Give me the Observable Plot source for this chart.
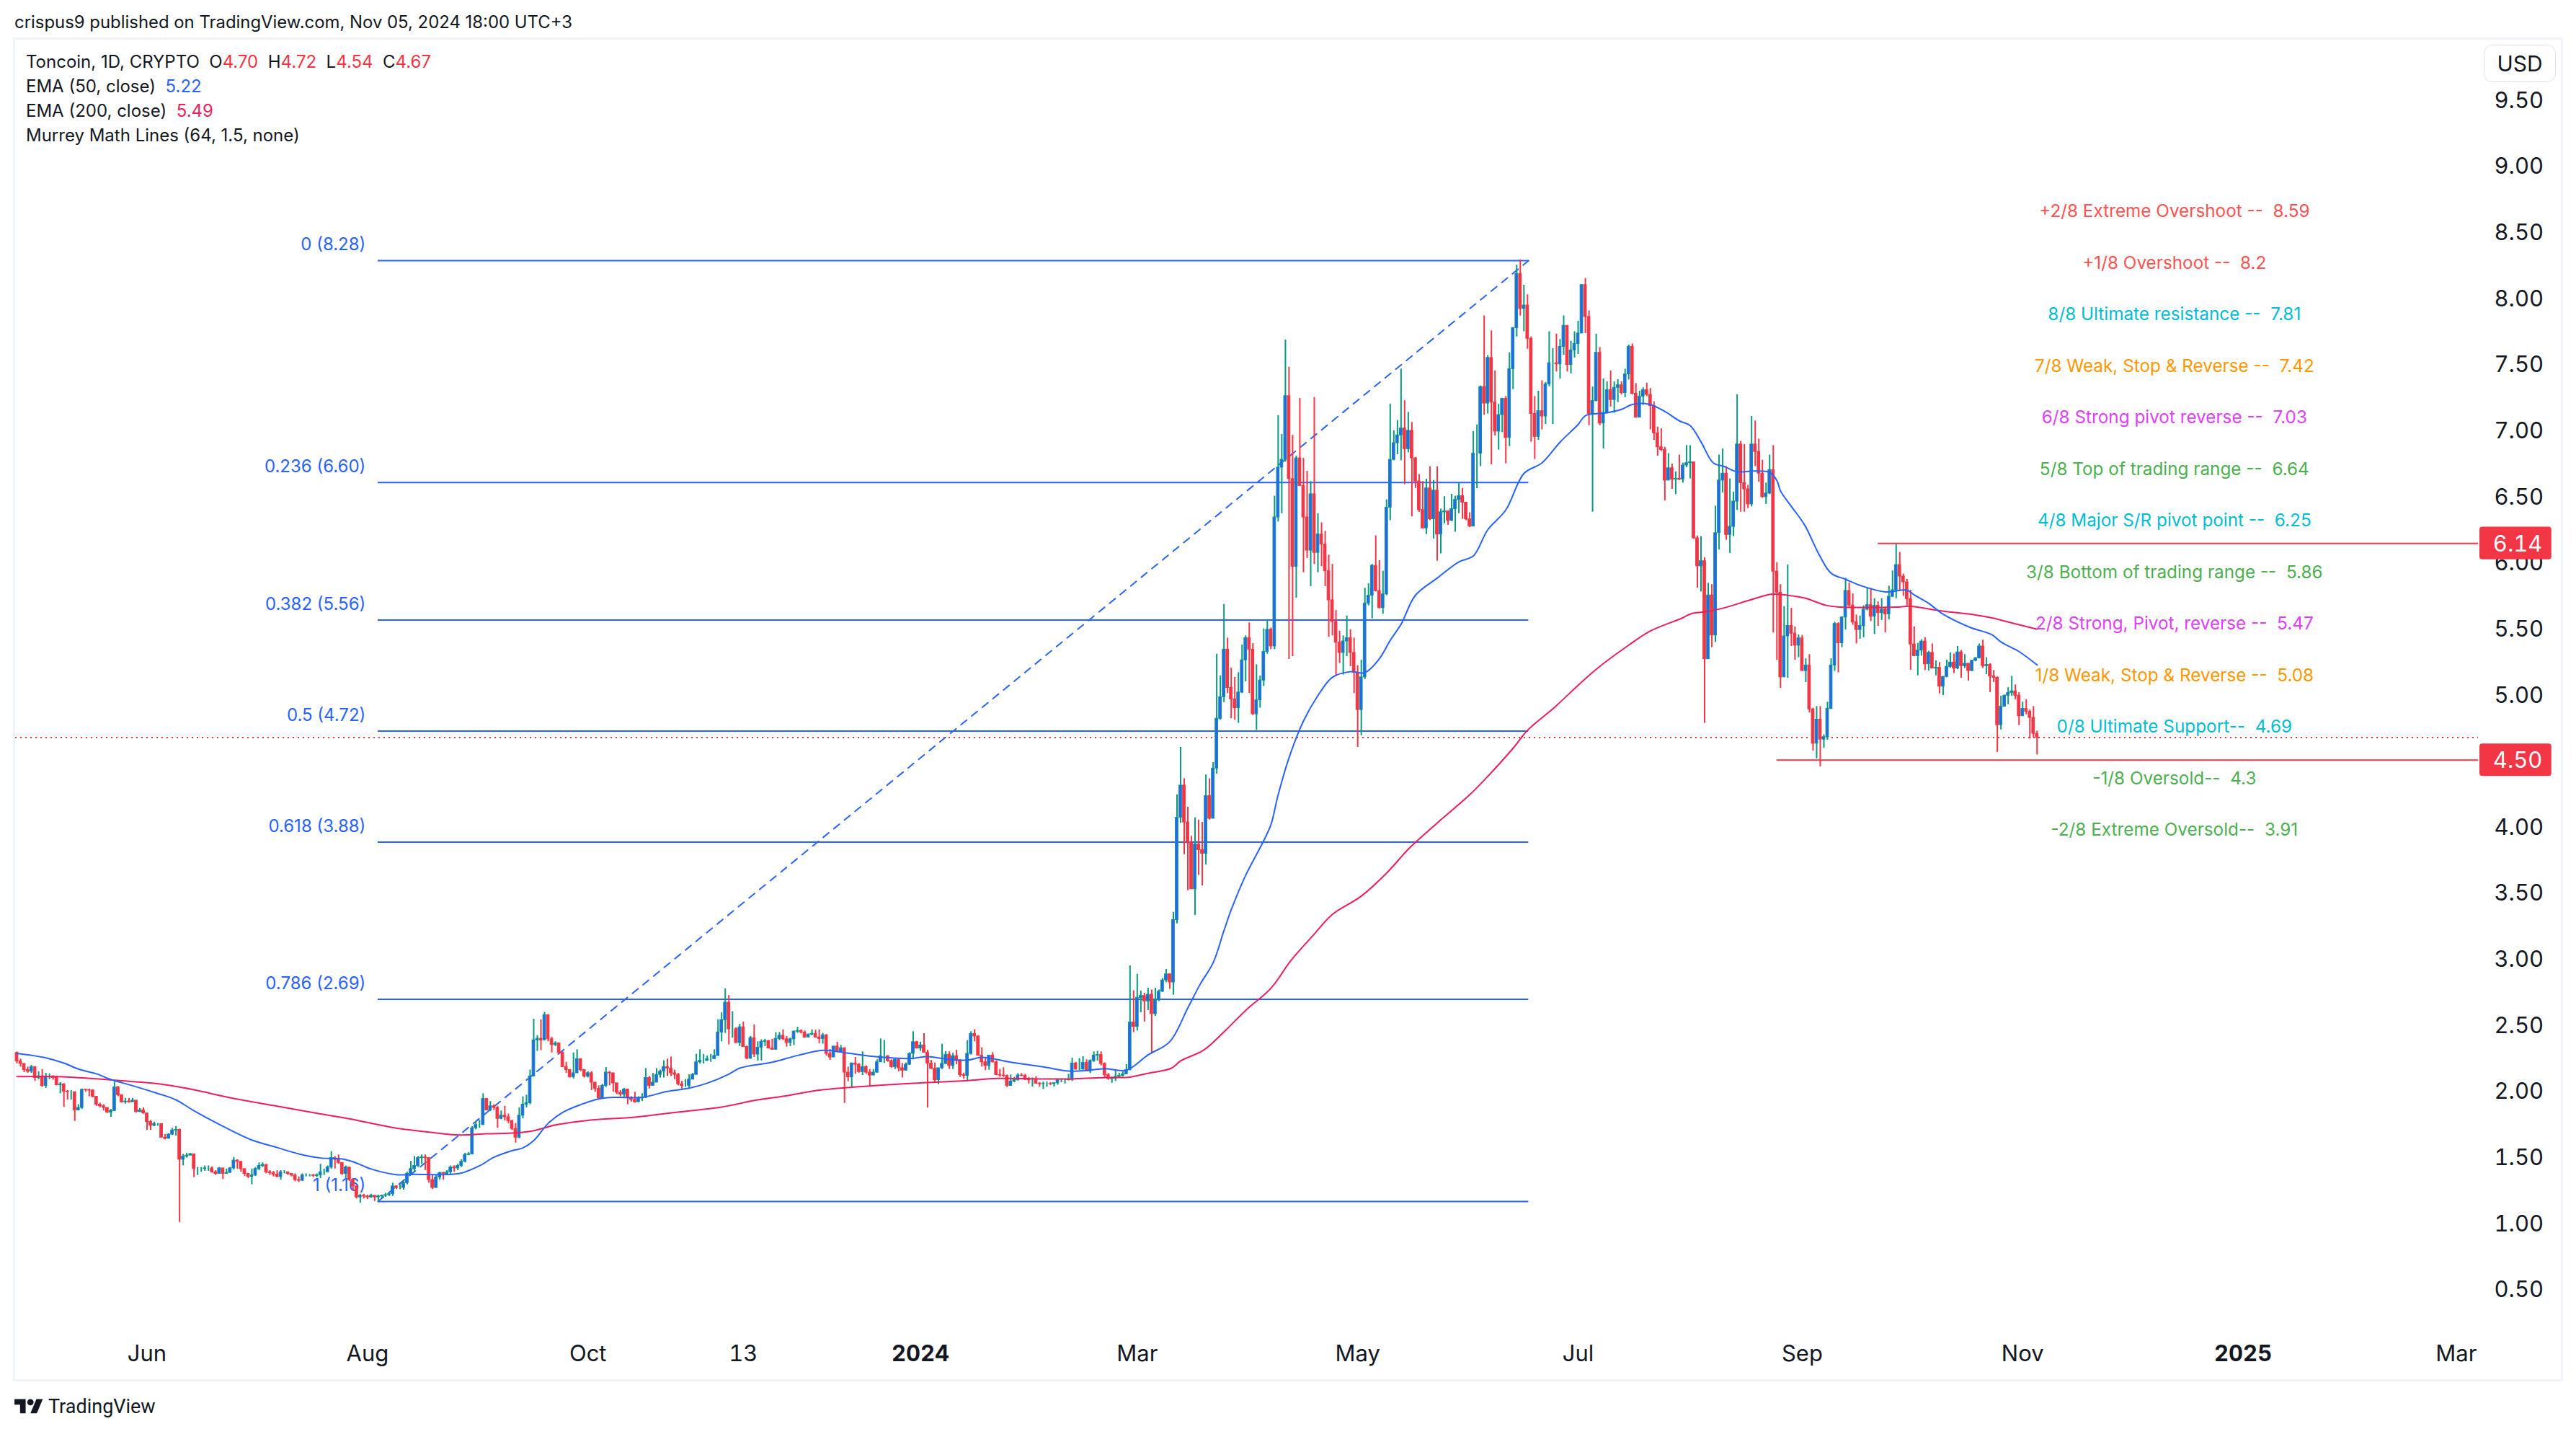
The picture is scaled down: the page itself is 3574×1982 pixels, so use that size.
<!DOCTYPE html>
<html><head><meta charset="utf-8">
<script src="https://cdn.jsdelivr.net/npm/d3@7"></script>
<script src="https://cdn.jsdelivr.net/npm/@observablehq/plot@0.6"></script>
<style>
html,body{margin:0;padding:0;background:#fff;width:3574px;height:1982px;overflow:hidden;color:#131722;font-family:Inter,Roboto,sans-serif}
#hdr{height:53px;box-sizing:border-box;padding:14px 0 0 20px;font:23.9px/34px Inter,sans-serif;white-space:nowrap}
#frame{position:absolute;left:18px;top:52px;width:3532px;height:1858px;border:3px solid #f0f3fa}
#legend{position:absolute;left:36px;top:69px;font:24px/34px Inter,sans-serif}
#legend .r{color:#f23645}#legend .b{color:#2962ff}#legend .p{color:#ee1e5d}
#usd{position:absolute;left:3446px;top:62px;width:100px;height:52px;box-sizing:border-box;border:1px solid #e0e3eb;border-radius:12px;text-align:center;font:30px/50px Inter,sans-serif}
#ftr{position:absolute;left:20px;top:1931px;display:flex;align-items:center;gap:7px;font:27px/40px Roboto,sans-serif}
#chart{position:absolute;left:0;top:53px}
</style></head><body>
<div id="hdr">crispus9 published on TradingView.com, Nov 05, 2024 18:00 UTC+3</div>
<div id="frame"></div>
<div id="chart"></div>
<div id="legend">
<div>Toncoin, 1D, CRYPTO&nbsp;&nbsp;O<span class="r">4.70</span>&nbsp;&nbsp;H<span class="r">4.72</span>&nbsp;&nbsp;L<span class="r">4.54</span>&nbsp;&nbsp;C<span class="r">4.67</span></div>
<div>EMA (50, close)&nbsp;&nbsp;<span class="b">5.22</span></div>
<div>EMA (200, close)&nbsp;&nbsp;<span class="p">5.49</span></div>
<div>Murrey Math Lines (64, 1.5, none)</div>
</div>
<div id="usd">USD</div>
<div id="ftr"><svg width="40" height="31" viewBox="0 0 36 28"><path fill="#131722" d="M14 22H7V11H0V4h14v18zM28 22h-8l7.5-18h8L28 22z"/><circle fill="#131722" cx="20" cy="8" r="4"/></svg><span>TradingView</span></div>
<script>
const firstOpen = 2.285;
const closes = [
2.221,2.202,2.155,2.143,2.178,2.095,2.107,2.036,2.107,2.107,
2.095,2.041,2.048,1.993,1.988,1.988,1.850,1.869,2.005,2.003,
2.0,1.953,1.893,1.881,1.869,1.834,1.846,2.024,1.965,1.912,
1.917,1.912,1.924,1.838,1.850,1.827,1.762,1.734,1.746,1.746,
1.644,1.636,1.667,1.698,1.703,1.477,1.501,1.508,1.518,1.406,
1.406,1.406,1.411,1.411,1.382,1.370,1.411,1.370,1.377,1.411,
1.470,1.461,1.406,1.370,1.347,1.358,1.406,1.430,1.437,1.382,
1.375,1.365,1.347,1.382,1.382,1.370,1.358,1.323,1.318,1.358,
1.358,1.358,1.354,1.358,1.382,1.382,1.418,1.489,1.477,1.453,
1.370,1.418,1.323,1.275,1.192,1.204,1.199,1.192,1.204,1.192,
1.199,1.204,1.209,1.216,1.275,1.263,1.263,1.299,1.370,1.406,
1.430,1.489,1.494,1.489,1.323,1.263,1.342,1.375,1.370,1.382,
1.418,1.411,1.430,1.461,1.513,1.518,1.715,1.739,1.739,1.936,
1.850,1.881,1.869,1.786,1.810,1.798,1.770,1.710,1.644,1.810,
1.893,1.905,2.107,2.380,2.392,2.380,2.571,2.388,2.345,2.357,
2.285,2.178,2.155,2.102,2.131,2.238,2.155,2.107,2.131,2.060,
2.012,1.941,2.036,2.136,2.131,2.055,1.984,1.969,2.007,1.945,
1.929,1.912,1.941,1.945,2.095,2.036,2.060,2.119,2.143,2.178,
2.167,2.131,2.119,2.048,2.036,2.036,2.083,2.119,2.214,2.226,
2.226,2.238,2.238,2.262,2.440,
2.533,2.665,2.464,2.464,2.360,2.479,2.329,2.242,2.397,2.273,
2.324,2.369,2.375,2.318,2.309,2.391,2.415,2.388,2.360,2.388,
2.446,2.451,2.439,2.402,2.424,2.429,2.402,2.391,2.418,2.278,
2.251,2.333,2.293,2.320,2.136,2.100,2.205,2.196,2.140,2.178,
2.136,2.114,2.136,2.214,2.260,2.260,2.224,2.178,2.233,2.169,
2.151,2.196,2.278,2.366,2.318,2.342,2.287,2.205,2.165,2.078,
2.169,2.202,2.271,2.187,2.260,2.224,2.118,2.111,2.278,2.428,
2.409,2.264,2.214,2.187,2.265,2.214,2.118,2.114,2.111,2.036,
2.069,2.078,2.114,2.111,2.081,2.078,2.078,2.052,2.049,2.050,
2.050,2.049,2.056,2.078,2.078,2.078,2.081,2.205,2.160,2.160,
2.209,2.145,2.224,2.265,2.269,2.202,2.118,2.087,2.090,2.105,
2.111,2.123,2.154,2.515,2.482,2.701,2.716,2.675,2.725,2.579,
2.683,2.748,2.834,2.880,2.818,3.290,
4.064,4.308,4.029,3.872,3.523,3.862,3.820,3.792,4.228,4.057,
4.437,4.814,4.977,5.337,5.047,4.960,4.894,5.012,5.256,5.424,
5.337,4.848,4.953,5.103,5.319,5.487,5.361,6.337,6.714,6.773,
7.255,6.627,5.964,6.784,6.575,6.337,6.086,6.512,6.069,6.208,
6.132,5.930,5.710,5.546,5.389,5.312,5.399,5.424,5.312,5.162,
4.880,5.127,5.685,5.745,5.971,5.780,5.651,5.755,6.411,6.773,
6.899,6.958,7.010,6.854,6.993,6.784,6.609,6.393,6.254,6.557,
6.323,6.540,6.208,6.376,6.383,6.313,6.400,6.470,6.498,6.449,
6.323,6.268,
6.820,6.820,7.324,7.199,7.544,7.207,6.987,7.112,7.234,6.939,
7.459,7.769,8.180,7.915,7.941,7.689,7.120,6.947,7.141,7.101,
7.345,7.504,7.504,7.496,7.628,7.787,7.491,7.602,7.650,7.729,
8.095,7.854,7.120,7.218,7.583,7.048,7.128,7.300,7.226,7.318,
7.337,7.279,7.419,7.628,7.273,7.093,7.252,7.300,7.265,7.180,
6.974,6.868,6.847,6.616,6.709,6.624,6.629,6.624,6.730,6.748,
6.754,6.179,5.967,6.006,5.264,5.747,5.444,6.218,6.616,6.669,
6.205,6.266,6.457,6.889,6.597,6.550,6.436,6.889,6.833,6.669,
6.491,6.518,6.695,5.927,5.768,5.127,5.437,
5.516,5.458,5.367,5.422,5.175,5.217,4.884,4.625,4.807,4.656,
4.674,4.889,5.217,5.531,5.385,5.580,5.781,5.671,5.544,5.485,
5.516,5.640,5.673,5.586,5.668,5.613,5.640,5.604,5.737,5.786,
5.977,5.890,5.846,5.719,5.376,5.288,5.330,5.398,5.226,5.312,
5.194,5.199,5.057,5.130,5.206,5.239,5.194,5.316,5.212,5.230,
5.175,5.252,5.272,5.361,5.212,5.221,5.134,5.124,4.765,4.906,
4.988,5.008,5.021,4.988,4.833,4.888,4.866,4.820,4.70,4.67];
const highs = [
2.292,2.238,2.202,2.178,2.190,2.131,2.143,2.159,2.131,2.126,
2.112,2.107,2.060,2.048,2.0,2.0,1.941,1.893,2.012,2.012,
2.012,2.007,1.953,1.905,1.893,1.869,1.858,2.064,2.031,1.965,
1.941,1.941,1.941,1.924,1.865,1.869,1.827,1.774,1.762,1.751,
1.746,1.667,1.674,1.715,1.727,1.708,1.518,1.525,1.525,1.518,
1.418,1.418,1.430,1.430,1.423,1.394,1.418,1.406,1.406,1.418,
1.494,1.477,1.461,1.394,1.370,1.406,1.418,1.453,1.453,1.442,
1.394,1.389,1.394,1.394,1.394,1.382,1.370,1.370,1.347,1.370,
1.370,1.365,1.365,1.370,1.442,1.406,1.430,1.537,1.501,1.513,
1.453,1.430,1.418,1.335,1.275,1.216,1.216,1.209,1.216,1.204,
1.209,1.209,1.223,1.223,1.299,1.280,1.287,1.323,1.382,1.465,
1.501,1.501,1.513,1.513,1.489,1.358,1.358,1.382,1.382,1.394,
1.430,1.430,1.442,1.477,1.525,1.532,1.727,1.762,1.774,1.976,
1.941,1.917,1.893,1.881,1.846,1.881,1.822,1.774,1.751,1.869,
1.953,1.965,2.155,2.540,2.416,2.535,2.592,2.571,2.404,2.369,
2.357,2.292,2.214,2.159,2.285,2.309,2.238,2.155,2.143,2.143,
2.048,2.036,2.048,2.174,2.143,2.095,2.036,2.0,2.017,2.012,
1.953,1.988,1.953,1.976,2.167,2.107,2.131,2.167,2.155,2.226,
2.238,2.254,2.155,2.131,2.071,2.083,2.119,2.131,2.274,2.309,
2.274,2.262,2.274,2.309,2.535,
2.588,2.770,2.719,2.597,2.475,2.501,2.519,2.337,2.409,2.497,
2.369,2.384,2.388,2.378,2.388,2.439,2.439,2.460,2.409,2.397,
2.451,2.479,2.460,2.451,2.428,2.460,2.457,2.460,2.433,2.424,
2.311,2.333,2.366,2.342,2.324,2.178,2.209,2.251,2.205,2.293,
2.187,2.160,2.160,2.233,2.391,2.380,2.264,2.233,2.245,2.242,
2.205,2.209,2.287,2.446,2.373,2.366,2.431,2.306,2.229,2.209,
2.169,2.351,2.296,2.293,2.282,2.306,2.233,2.132,2.378,2.446,
2.460,2.415,2.324,2.251,2.265,2.287,2.224,2.160,2.173,2.118,
2.118,2.100,2.129,2.129,2.123,2.100,2.096,2.105,2.060,2.065,
2.065,2.060,2.060,2.087,2.087,2.087,2.123,2.245,2.214,2.242,
2.256,2.233,2.233,2.293,2.296,2.293,2.209,2.129,2.100,2.147,
2.132,2.142,2.196,2.943,2.756,2.880,2.752,2.737,2.774,2.761,
2.774,2.761,2.847,2.916,2.880,3.349,
4.238,4.597,4.360,4.144,3.924,4.064,4.047,4.029,4.388,4.360,
4.482,5.302,5.138,5.678,5.424,5.197,5.127,5.162,5.372,5.441,
5.539,5.382,5.222,5.138,5.494,5.563,5.501,6.498,7.108,6.965,
7.680,7.474,6.958,6.801,7.237,6.784,6.686,6.609,7.244,6.365,
6.296,6.233,6.052,5.982,5.633,5.476,5.441,5.591,5.487,5.424,
5.215,5.257,5.801,5.835,5.982,6.198,6.010,5.930,6.470,7.195,
6.993,7.070,7.460,7.220,7.132,7.056,6.791,6.662,6.609,6.627,
6.721,6.616,6.721,6.400,6.494,6.383,6.512,6.498,6.602,6.557,
6.452,6.372,
6.987,7.037,7.332,7.862,7.562,7.748,7.446,7.194,7.239,7.252,
7.583,7.774,8.246,8.286,8.095,8.021,7.703,7.252,7.292,7.371,
7.358,7.742,7.615,7.724,7.684,7.862,7.787,7.671,7.742,7.822,
8.100,8.145,7.901,7.324,7.724,7.623,7.385,7.363,7.446,7.363,
7.379,7.363,7.459,7.642,7.650,7.350,7.292,7.318,7.353,7.313,
7.212,7.021,7.008,6.868,6.820,6.741,6.682,6.809,6.748,6.881,
6.881,6.748,6.197,6.192,6.033,5.839,5.829,6.422,6.809,6.855,
6.722,6.629,6.529,7.265,6.913,6.889,6.581,7.101,7.067,6.929,
6.770,6.597,6.809,6.881,5.993,5.829,5.662,
5.977,5.649,5.509,5.449,5.445,5.267,5.299,4.893,4.906,4.906,
4.692,4.939,5.267,5.544,5.540,5.586,5.877,5.841,5.759,5.598,
5.591,5.668,5.804,5.799,5.722,5.698,5.722,5.658,5.817,5.932,
6.132,6.072,5.908,5.868,5.786,5.509,5.385,5.412,5.427,5.325,
5.380,5.252,5.239,5.134,5.257,5.312,5.303,5.361,5.330,5.299,
5.230,5.257,5.276,5.380,5.409,5.276,5.230,5.179,5.130,4.984,
4.993,5.048,5.135,5.070,5.011,4.939,4.957,4.880,4.906,4.72];
const lows = [
2.202,2.178,2.136,2.131,2.131,2.071,2.083,2.024,2.017,2.083,
2.079,2.036,1.976,1.874,1.929,1.929,1.767,1.846,1.858,1.988,
1.953,1.945,1.881,1.869,1.846,1.827,1.798,1.841,1.953,1.905,
1.898,1.905,1.912,1.831,1.834,1.822,1.698,1.698,1.727,1.731,
1.644,1.627,1.632,1.660,1.656,1.002,1.430,1.489,1.508,1.342,
1.358,1.382,1.389,1.389,1.375,1.358,1.370,1.327,1.365,1.382,
1.399,1.406,1.382,1.351,1.335,1.287,1.351,1.394,1.418,1.370,
1.358,1.347,1.339,1.323,1.370,1.358,1.347,1.311,1.304,1.311,
1.347,1.347,1.342,1.342,1.335,1.358,1.394,1.406,1.406,1.442,
1.358,1.335,1.311,1.239,1.180,1.149,1.180,1.175,1.185,1.161,
1.161,1.185,1.192,1.199,1.199,1.251,1.251,1.247,1.287,1.358,
1.382,1.418,1.442,1.394,1.299,1.251,1.263,1.323,1.323,1.358,
1.358,1.382,1.394,1.418,1.453,1.508,1.513,1.703,1.715,1.739,
1.846,1.841,1.850,1.715,1.779,1.770,1.751,1.698,1.603,1.636,
1.786,1.869,1.893,2.107,2.297,2.302,2.388,2.369,2.285,2.333,
2.274,2.174,2.131,2.095,2.088,2.155,2.143,2.095,2.095,2.0,
1.988,1.929,1.936,2.024,2.036,1.988,1.969,1.953,1.941,1.893,
1.912,1.905,1.912,1.917,1.941,2.012,2.055,2.060,2.095,2.095,
2.107,2.107,2.083,2.036,2.012,2.024,2.017,2.107,2.119,2.202,
2.202,2.221,2.214,2.254,2.262,
2.369,2.433,2.346,2.397,2.357,2.333,2.329,2.233,2.236,2.251,
2.224,2.224,2.333,2.315,2.306,2.306,2.378,2.378,2.329,2.333,
2.342,2.433,2.428,2.397,2.400,2.415,2.397,2.355,2.351,2.260,
2.229,2.251,2.287,2.287,1.903,2.067,2.023,2.123,2.132,2.114,
2.123,2.027,2.114,2.132,2.214,2.205,2.214,2.169,2.160,2.142,
2.096,2.147,2.191,2.233,2.315,2.296,2.287,1.868,2.160,2.063,
2.045,2.160,2.196,2.160,2.160,2.196,2.100,2.087,2.074,2.269,
2.369,2.260,2.178,2.151,2.154,2.209,2.114,2.100,2.100,2.023,
2.032,2.060,2.072,2.105,2.078,2.050,2.027,2.049,2.027,2.008,
2.027,2.038,2.027,2.041,2.060,2.050,2.074,2.069,2.154,2.151,
2.154,2.142,2.129,2.214,2.224,2.187,2.092,2.078,2.056,2.069,
2.092,2.105,2.123,2.151,2.439,2.451,2.588,2.519,2.606,2.278,
2.561,2.675,2.743,2.816,2.767,2.722,
3.262,4.022,3.785,3.513,3.523,3.325,3.628,3.548,3.708,4.047,
4.057,4.395,4.803,4.936,5.005,4.814,4.803,4.779,5.005,5.093,
5.005,4.838,4.726,4.894,5.058,5.302,5.337,5.337,6.303,6.365,
6.756,5.263,5.284,5.727,6.575,5.919,6.027,5.814,5.982,5.919,
5.964,5.814,5.431,5.441,5.134,5.232,5.145,5.284,5.208,5.005,
4.597,4.685,5.110,5.668,5.570,5.773,5.644,5.605,5.745,6.313,
6.766,6.812,6.766,6.585,6.826,6.341,6.557,6.376,6.254,6.208,
6.313,6.174,6.006,6.062,6.289,6.278,6.306,6.226,6.365,6.323,
6.313,6.261,
6.271,6.555,6.722,7.112,7.120,6.735,6.953,6.847,6.979,6.743,
6.873,7.305,7.703,7.862,7.742,7.610,6.907,6.775,6.921,7.000,
7.040,7.326,7.040,7.438,7.385,7.565,7.438,7.424,7.544,7.570,
7.729,7.729,7.032,6.377,7.212,7.032,6.855,7.128,7.173,7.125,
7.207,7.265,7.244,7.377,7.265,7.088,7.093,7.186,7.252,7.000,
6.921,6.801,6.836,6.462,6.616,6.550,6.510,6.616,6.597,6.714,
6.629,6.173,5.802,5.773,4.779,5.264,5.352,5.391,6.091,6.523,
6.165,6.065,6.192,6.391,6.377,6.377,6.404,6.417,6.722,6.603,
6.483,6.436,6.510,5.463,5.256,5.044,5.127,
5.121,5.361,5.257,5.276,5.175,5.088,4.857,4.570,4.510,4.450,
4.592,4.651,4.884,5.172,5.161,5.352,5.485,5.653,5.522,5.380,
5.416,5.427,5.631,5.549,5.452,5.513,5.558,5.463,5.562,5.731,
5.722,5.786,5.740,5.668,5.181,5.285,5.139,5.288,5.179,5.175,
5.194,5.139,5.002,4.990,5.124,5.197,5.157,5.185,5.121,5.194,
5.099,5.172,5.245,5.267,5.194,5.148,5.011,5.088,4.559,4.729,
4.902,4.920,4.984,4.957,4.762,4.844,4.844,4.660,4.669,4.54];

const ema50Days = [0,8,13,17,22,26,32,39,44,49,53,58,65,72,78,84,90,93,98,105,110,118,123,128,132,137,140,143,147,151,156,161,166,173,180,186,191,197,200,209,216,223,230,238,247,252,257,263,267,275,284,291,297,301,307,313,319,324,327.5,331,334,336,340,345,347,349,352,356,360,364,369,373,377,380,383,387,393,399,403,407,412,417,422,427,432,434,440,444,447,451.5,456,460,463,466,469.4,472.4,476,480.7,485,487,488,491,494.7,498.6,502,506,510.6,517,523,525,529,533,540.5,546.5,549,554,559];
const ema50Values = [2.281,2.247,2.207,2.162,2.126,2.083,2.036,1.977,1.929,1.846,1.786,1.715,1.625,1.568,1.520,1.489,1.482,1.461,1.406,1.363,1.365,1.363,1.375,1.430,1.494,1.544,1.565,1.620,1.751,1.834,1.893,1.936,1.948,1.948,1.993,2.017,2.055,2.123,2.169,2.214,2.265,2.304,2.282,2.255,2.242,2.256,2.238,2.229,2.251,2.214,2.178,2.147,2.154,2.165,2.154,2.269,2.369,2.625,2.808,2.966,3.210,3.367,3.628,3.890,4.012,4.238,4.517,4.796,4.988,5.127,5.169,5.162,5.267,5.406,5.528,5.748,5.877,6.0,6.045,6.243,6.393,6.669,6.749,6.906,7.04,7.106,7.128,7.154,7.191,7.194,7.138,7.067,7.032,6.908,6.749,6.722,6.682,6.688,6.677,6.616,6.537,6.42,6.278,6.059,5.914,5.868,5.817,5.773,5.786,5.75,5.686,5.604,5.504,5.449,5.394,5.321,5.22];
const ema200Days = [0,11,21,31,40,49,59,72,84,92,103.5,113.7,122.6,130,138,143,149,158,171,182,195,203.8,212.7,221.6,230.5,248,262.5,271.4,284,292.8,301.7,308,312.4,319.5,322,328.4,334.5,340,347,352.5,358.7,364,372,379,385.4,392.5,402,406.8,414,418,425.5,432,436.9,446,452,460.8,463.4,467,472,479.4,485.4,490,494.7,500.6,504.6,512,520,524,532,542,546.5,553,559];
const ema200Values = [2.105,2.105,2.090,2.069,2.048,2.005,1.945,1.881,1.822,1.786,1.722,1.686,1.663,1.672,1.679,1.696,1.739,1.774,1.798,1.834,1.874,1.923,1.959,2.001,2.023,2.054,2.074,2.091,2.087,2.089,2.098,2.101,2.127,2.169,2.224,2.306,2.457,2.606,2.774,2.983,3.175,3.332,3.471,3.645,3.837,4.012,4.238,4.371,4.59,4.726,4.90,5.066,5.185,5.370,5.477,5.575,5.609,5.622,5.649,5.710,5.755,5.747,5.726,5.671,5.658,5.655,5.658,5.664,5.631,5.598,5.576,5.531,5.49];

const fibLevels = [8.28,6.60,5.56,4.72,3.88,2.69,1.16];
const fibLabels = ["0 (8.28)","0.236 (6.60)","0.382 (5.56)","0.5 (4.72)","0.618 (3.88)","0.786 (2.69)","1 (1.16)"];
const murreyLevels = [8.59,8.2,7.81,7.42,7.03,6.64,6.25,5.86,5.47,5.08,4.69,4.3,3.91];
const murreyLabels = ["+2/8 Extreme Overshoot --  8.59","+1/8 Overshoot --  8.2","8/8 Ultimate resistance --  7.81","7/8 Weak, Stop & Reverse --  7.42","6/8 Strong pivot reverse --  7.03","5/8 Top of trading range --  6.64","4/8 Major S/R pivot point --  6.25","3/8 Bottom of trading range --  5.86","2/8 Strong, Pivot, reverse --  5.47","1/8 Weak, Stop & Reverse --  5.08","0/8 Ultimate Support--  4.69","-1/8 Oversold--  4.3","-2/8 Extreme Oversold--  3.91"];
const murreyColors = ["#ff5252","#ff5252","#00bcd4","#ff9800","#e040fb","#4caf50","#00bcd4","#4caf50","#e040fb","#ff9800","#00bcd4","#4caf50","#4caf50"];
const priceTicks = d3.range(1,20).map(d=>d/2);
const monthTicks = [["2023-06-01","Jun"],["2023-08-01","Aug"],["2023-10-01","Oct"],["2023-11-13","13"],["2024-03-01","Mar"],["2024-05-01","May"],["2024-07-01","Jul"],["2024-09-01","Sep"],["2024-11-01","Nov"],["2025-03-01","Mar"]];
const yearTicks = [["2024-01-01","2024"],["2025-01-01","2025"]];

const START = Date.UTC(2023,3,26), DAY = 864e5;
const date = i => new Date(START + i*DAY);
const lastPrice = 4.67, swingHigh = 6.14, swingLow = 4.50;
const RED="#f23645", GREEN="#089981", BLUE="#2962ff", PINK="#ee1e5d";

const candles = closes.map((c,i)=>({date:date(i), open:i?closes[i-1]:firstOpen, close:c, high:highs[i], low:lows[i]}));
const up = candles.filter(d=>d.close>=d.open), down = candles.filter(d=>d.close<d.open);
const ema50 = ema50Days.map((d,i)=>({date:date(d), v:ema50Values[i]}));
const ema200 = ema200Days.map((d,i)=>({date:date(d), v:ema200Values[i]}));
const fib = fibLevels.map((v,i)=>({v,label:fibLabels[i]}));
const murrey = murreyLevels.map((v,i)=>({v,label:murreyLabels[i],color:murreyColors[i]}));
const fibStart = date(99.9), fibEnd = date(418.3), labelEnd = date(96.5), murreyX = date(597);
const parse = d3.utcParse("%Y-%m-%d");
const halfBody = 0.37;

const plot = Plot.plot({
  width:3574, height:1859, marginLeft:21, marginRight:136, marginTop:0, marginBottom:67,
  x:{type:"utc", domain:[date(-0.4),date(681.1)], axis:null},
  y:{domain:[0.183,9.960], axis:null},
  style:{background:"transparent", fontFamily:"Inter,sans-serif", whiteSpace:"pre", overflow:"visible"},
  marks:[
    Plot.axisY({anchor:"right", ticks:priceTicks, tickSize:0, tickPadding:22, tickFormat:d=>d.toFixed(2), fontSize:31, fill:"#131722", fontFamily:"Inter", fontVariant:"tabular-nums", label:null, dy:2}),
    Plot.axisX({anchor:"bottom", ticks:monthTicks.map(d=>parse(d[0])), tickFormat:d=>monthTicks.find(t=>+parse(t[0])===+d)[1], tickSize:0, tickPadding:20, fontSize:31, fill:"#131722", label:null, fontFamily:"Inter"}),
    Plot.axisX({anchor:"bottom", ticks:yearTicks.map(d=>parse(d[0])), tickFormat:d=>yearTicks.find(t=>+parse(t[0])===+d)[1], tickSize:0, tickPadding:20, fontSize:31, fontWeight:"bold", fill:"#131722", label:null, fontFamily:"Inter"}),
    Plot.ruleY(fib,{x1:fibStart,x2:fibEnd,y:"v",stroke:BLUE,strokeWidth:2}),
    Plot.line([{x:fibStart,y:1.16},{x:fibEnd,y:8.28}],{x:"x",y:"y",stroke:BLUE,strokeWidth:2,strokeDasharray:"10,9"}),
    Plot.text(fib,{x:labelEnd,y:"v",text:"label",textAnchor:"end",dy:-22,fill:BLUE,fontSize:24,fontFamily:"Inter"}),
    Plot.ruleY([lastPrice],{stroke:RED,strokeWidth:2,strokeDasharray:"2,5"}),
    Plot.ruleX(down,{x:"date",y1:"low",y2:"high",stroke:RED,strokeWidth:2}),
    Plot.ruleX(up,{x:"date",y1:"low",y2:"high",stroke:GREEN,strokeWidth:2}),
    Plot.rect(down,{x1:d=>new Date(+d.date-halfBody*DAY),x2:d=>new Date(+d.date+halfBody*DAY),y1:"open",y2:"close",fill:RED,stroke:RED,strokeWidth:1}),
    Plot.rect(up,{x1:d=>new Date(+d.date-halfBody*DAY),x2:d=>new Date(+d.date+halfBody*DAY),y1:"open",y2:"close",fill:BLUE,stroke:GREEN,strokeWidth:1}),
    Plot.line(ema200,{x:"date",y:"v",stroke:PINK,strokeWidth:2,curve:"catmull-rom"}),
    Plot.line(ema50,{x:"date",y:"v",stroke:BLUE,strokeWidth:2,curve:"catmull-rom"}),
    Plot.ruleY([swingHigh],{x1:date(515),x2:date(681.1),stroke:RED,strokeWidth:2}),
    Plot.ruleY([swingLow],{x1:date(487),x2:date(681.1),stroke:RED,strokeWidth:2}),
    Plot.text(murrey,{x:murreyX,y:"v",text:"label",fill:"color",dy:-11,fontSize:24.3,fontFamily:"Inter"}),
    Plot.rect([swingHigh,swingLow],{x1:date(681.5),x2:date(701.4),y1:d=>d-0.123,y2:d=>d+0.123,fill:RED,rx:4}),
    Plot.text([swingHigh,swingLow],{x:date(692),y:d=>d,text:d=>d.toFixed(2),fill:"#fff",fontSize:31,fontFamily:"Inter",fontVariant:"tabular-nums",dy:1})
  ]
});
document.getElementById("chart").appendChild(plot);
</script>
</body></html>
